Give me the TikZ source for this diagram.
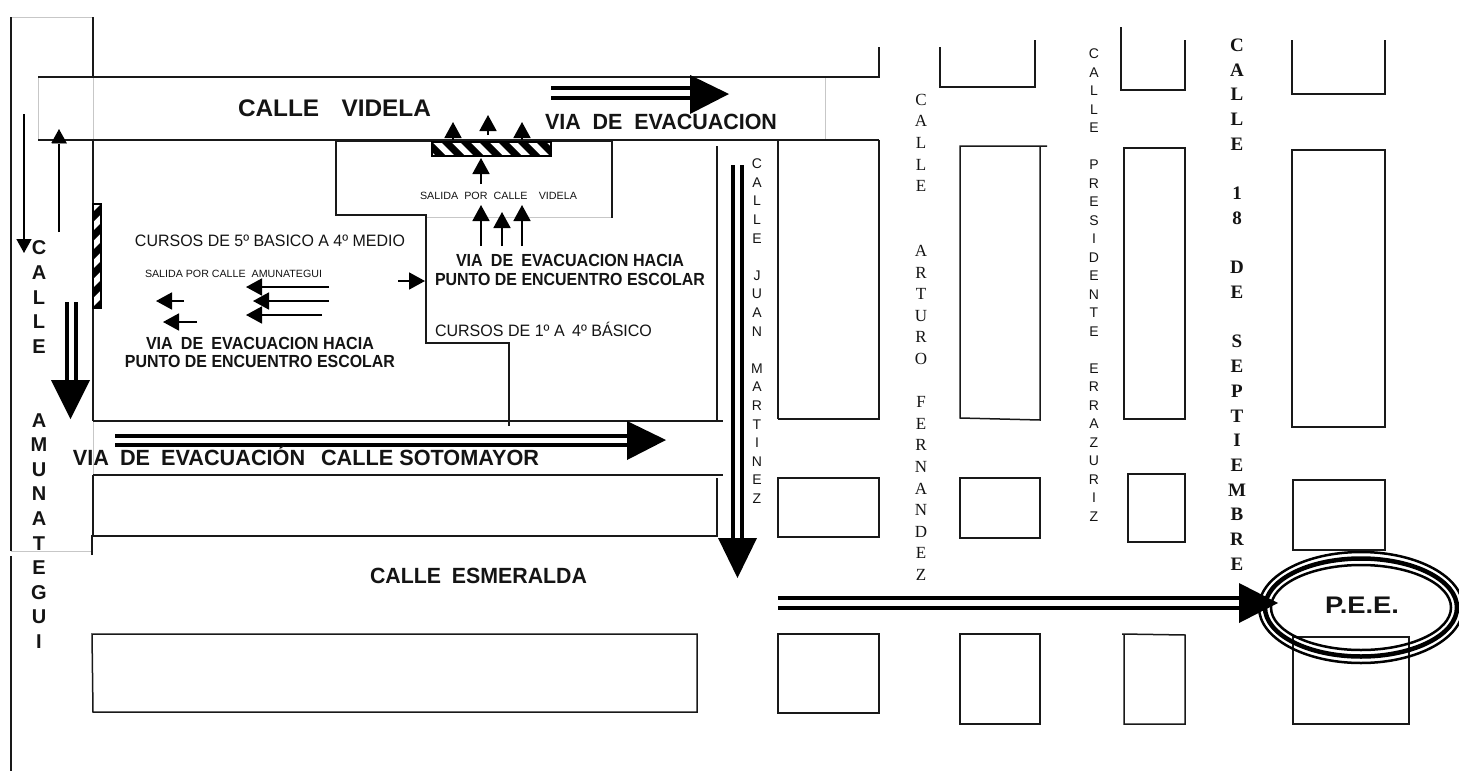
\documentclass[tikz,border=0pt]{standalone}
\usepackage{fontspec}
\usepackage{graphicx}
\setmainfont{Liberation Sans}
\newfontfamily\serifrm{Liberation Serif}
\usetikzlibrary{arrows.meta}
\newcommand{\wfit}[2]{\resizebox{#1pt}{\height}{#2}}
\tikzset{
  wall/.style={draw=black!90,line width=1.5pt,line join=miter},
  faint/.style={draw=black!22,line width=0.8pt},
  label/.style={inner sep=0pt,outer sep=0pt,text=black!92},
  blab/.style={label,font=\bfseries\fontsize{17.5}{20}\selectfont},
  rlab/.style={label,font=\fontsize{16.5}{18}\selectfont},
  tiny/.style={label,font=\fontsize{10.5}{12}\selectfont},
  shaft/.style={draw=black,line width=4pt},
  head/.style={fill=black},
  smallarr/.style={draw=black,line width=1.8pt,-{Triangle[length=16pt,width=17pt]}},
  thinarr/.style={draw=black,line width=1.6pt,-{Triangle[length=14pt,width=15pt]}},
  vlab/.style={label,anchor=north,align=center},
}
\begin{document}
\begin{tikzpicture}[x=1pt,y=-1pt]
\useasboundingbox[fill=white] (0,0) rectangle (1459,771);

% faint construction lines
\draw[faint] (11,17) -- (93,17);
\draw[faint] (38,77) -- (38,140);
\draw[faint] (93,77) -- (93,140);
\draw[faint] (825,77) -- (825,140);
\draw[faint] (93,421) -- (93,475);
\draw[faint] (11,551) -- (92,551);
\draw[faint] (426,217) -- (612,217);

% Amunategui street edges
\draw[wall] (11,17) -- (11,551);
\draw[wall] (11,556) -- (11,771);
\draw[wall] (93,17) -- (93,77);
\draw[wall] (93,140) -- (93,421);
\draw[wall] (93,475) -- (93,536);
\draw[wall] (92,555) -- (92,536) -- (717,536) -- (717,478);

% Videla street
\draw[wall] (38,77) -- (879,77) -- (879,47);
\draw[wall] (38,140) -- (879,140);

% Sotomayor street
\draw[wall] (93,421) -- (723,421);
\draw[wall] (93,475) -- (723,475);
\draw[wall] (717,146) -- (717,421);

% School outline
\draw[wall] (336,141) -- (612,141);
\draw[wall] (336,141) -- (336,215) -- (426,215) -- (426,343) -- (509,343) -- (509,426);
\draw[wall] (612,141) -- (612,218);

% Block under Esmeralda
\draw[wall] (92,634) -- (697,634) -- (697,712) -- (93,712) -- cycle;

% Blocks, column 1
\draw[wall] (778,419) -- (778,140);
\draw[wall] (778,419) -- (879,419) -- (879,140);
\draw[wall] (778,478) rectangle (879,537);
\draw[wall] (778,634) rectangle (879,713);
% column 2
\draw[wall] (940,47) -- (940,87) -- (1035,87) -- (1035,40);
\draw[wall] (1047,146) -- (960,146) -- (960,418) -- (1040,420) -- (1040,146);
\draw[wall] (960,478) rectangle (1040,538);
\draw[wall] (960,634) rectangle (1040,724);
% column 3
\draw[wall] (1121,27) -- (1121,90) -- (1185,90) -- (1185,40);
\draw[wall] (1124,148) rectangle (1185,419);
\draw[wall] (1128,474) rectangle (1185,542);
\draw[wall] (1122,634) -- (1185,635) -- (1185,724) -- (1124,724) -- (1124,634);
% column 4
\draw[wall] (1292,40) -- (1292,94) -- (1385,94) -- (1385,40);
\draw[wall] (1292,150) rectangle (1385,427);
\draw[wall] (1293,480) rectangle (1385,550);
\draw[wall] (1293,637) rectangle (1409,724);

% Hatched exits
\begin{scope}
  \clip (432,142) rectangle (551,156);
  \foreach \s in {0,...,7} {
    \fill[black] ({422+\s*19},142) -- ({432+\s*19},142) -- ({446+\s*19},156) -- ({436+\s*19},156) -- cycle;
  }
\end{scope}
\draw[draw=black,line width=1.3pt] (432,142) rectangle (551,156);
\begin{scope}
  \clip (93,204) rectangle (101,308);
  \foreach \s in {0,...,6} {
    \fill[black] (93,{212+\s*19}) -- (93,{222+\s*19}) -- (101,{214+\s*19}) -- (101,{204+\s*19}) -- cycle;
  }
\end{scope}
\draw[draw=black,line width=1.3pt] (93,204) rectangle (101,308);

% Thin arrows in the left street
\draw[thinarr] (24,114) -- (24,253);
\draw[thinarr] (59,232) -- (59,129);
\draw[draw=black!45,line width=1pt] (52,143) -- (67,143);

% Arrows, left block
\draw[smallarr] (329,287) -- (246,287);
\draw[smallarr] (329,301) -- (253,301);
\draw[smallarr] (322,315) -- (246,315);
\draw[smallarr] (184,301) -- (156,301);
\draw[smallarr] (197,322) -- (163,322);
\draw[smallarr] (398,281) -- (425,281);

% Arrows, upper exit
\draw[smallarr] (453,140) -- (453,122);
\draw[smallarr] (488,135) -- (488,115);
\draw[smallarr] (522,140) -- (522,122);
\draw[smallarr] (481,184) -- (481,158);
\draw[smallarr] (481,246) -- (481,205);
\draw[smallarr] (502,246) -- (502,212);
\draw[smallarr] (522,246) -- (522,205);

% Double arrows
\draw[shaft] (551,88) -- (692,88);
\draw[shaft] (551,98) -- (692,98);
\fill[head] (690,75) -- (729,94) -- (690,114) -- cycle;

\draw[shaft] (115,436) -- (629,436);
\draw[shaft] (115,444.5) -- (629,444.5);
\fill[head] (627,421) -- (666,440) -- (627,460) -- cycle;

\draw[shaft] (67,302) -- (67,382);
\draw[shaft] (75.5,302) -- (75.5,382);
\fill[head] (51,380) -- (90,380) -- (70.5,419) -- cycle;

\draw[shaft] (733,165) -- (733,540);
\draw[shaft] (741.5,165) -- (741.5,540);
\fill[head] (718,538) -- (757,538) -- (737.5,578) -- cycle;

\draw[shaft] (778,598) -- (1241,598);
\draw[shaft] (778,608) -- (1241,608);
\fill[head] (1239,583) -- (1278,603) -- (1239,623) -- cycle;

% P.E.E. ring
\draw[line width=2.5pt] (1361,607.5) ellipse [x radius=102,y radius=55.5];
\draw[line width=4.5pt] (1361,607.5) ellipse [x radius=96,y radius=49];
\draw[line width=2.5pt] (1361,607.5) ellipse [x radius=90,y radius=42.5];
\node[label,font=\bfseries\fontsize{24}{26}\selectfont] (pee) at (1362,605) {\wfit{74}{P.E.E.}};

% Horizontal labels
\node[label,font=\bfseries\fontsize{24}{26}\selectfont] (videla) at (334.5,108) {\wfit{193}{CALLE\hspace{22pt}VIDELA}};
\node[label,font=\bfseries\fontsize{22}{24}\selectfont] (viaev) at (661,122) {\wfit{232}{VIA\hspace{6pt} DE\hspace{6pt} EVACUACION}};
\node[tiny] (salv) at (498.5,196) {\wfit{157}{SALIDA\hspace{3pt} POR\hspace{3pt} CALLE\hspace{8pt} VIDELA}};
\node[blab] (via1a) at (570,260) {\wfit{228}{VIA\hspace{4pt} DE\hspace{4pt} EVACUACION HACIA}};
\node[blab] (via1b) at (570,279) {\wfit{270}{PUNTO DE ENCUENTRO ESCOLAR}};
\node[blab] (via2a) at (260,343) {\wfit{228}{VIA\hspace{4pt} DE\hspace{4pt} EVACUACION HACIA}};
\node[blab] (via2b) at (260,361) {\wfit{270}{PUNTO DE ENCUENTRO ESCOLAR}};
\node[rlab] (cur1) at (543.5,329) {\wfit{217}{CURSOS DE 1º A\hspace{3pt} 4º BÁSICO}};
\node[rlab] (cur5) at (270,241) {\wfit{270}{CURSOS DE 5º BASICO A 4º MEDIO}};
\node[tiny] (sala) at (233.5,274) {\wfit{177}{SALIDA POR CALLE\hspace{3pt} AMUNATEGUI}};
\node[label,anchor=base,font=\bfseries\fontsize{22}{24}\selectfont] (soto) at (306,465) {\wfit{466}{VIA\hspace{5pt} DE\hspace{5pt} EVACUACIÓN\hspace{10pt} CALLE SOTOMAYOR}};
\node[label,font=\bfseries\fontsize{22}{24}\selectfont] (esme) at (478.5,576) {\wfit{217}{CALLE\hspace{5pt} ESMERALDA}};

% Vertical street names
\node[vlab,font=\bfseries\fontsize{20}{24.6}\selectfont] (amu) at (39,241) {C\\A\\L\\L\\E\\~\\~\\A\\M\\U\\N\\A\\T\\E\\G\\U\\I};
\node[vlab,font=\fontsize{14}{18.6}\selectfont] (jm) at (757,159) {C\\A\\L\\L\\E\\~\\J\\U\\A\\N\\~\\M\\A\\R\\T\\I\\N\\E\\Z};
\node[vlab,font=\serifrm\fontsize{17}{21.6}\selectfont] (af) at (921,94) {C\\A\\L\\L\\E\\~\\~\\A\\R\\T\\U\\R\\O\\~\\F\\E\\R\\N\\A\\N\\D\\E\\Z};
\node[vlab,font=\fontsize{14}{18.5}\selectfont] (pe) at (1094,49) {C\\A\\L\\L\\E\\~\\P\\R\\E\\S\\I\\D\\E\\N\\T\\E\\~\\E\\R\\R\\A\\Z\\U\\R\\I\\Z};
\node[vlab,font=\serifrm\bfseries\fontsize{19}{24.7}\selectfont] (sep) at (1237,39) {C\\A\\L\\L\\E\\~\\1\\8\\~\\D\\E\\~\\S\\E\\P\\T\\I\\E\\M\\B\\R\\E};
\end{tikzpicture}
\end{document}
